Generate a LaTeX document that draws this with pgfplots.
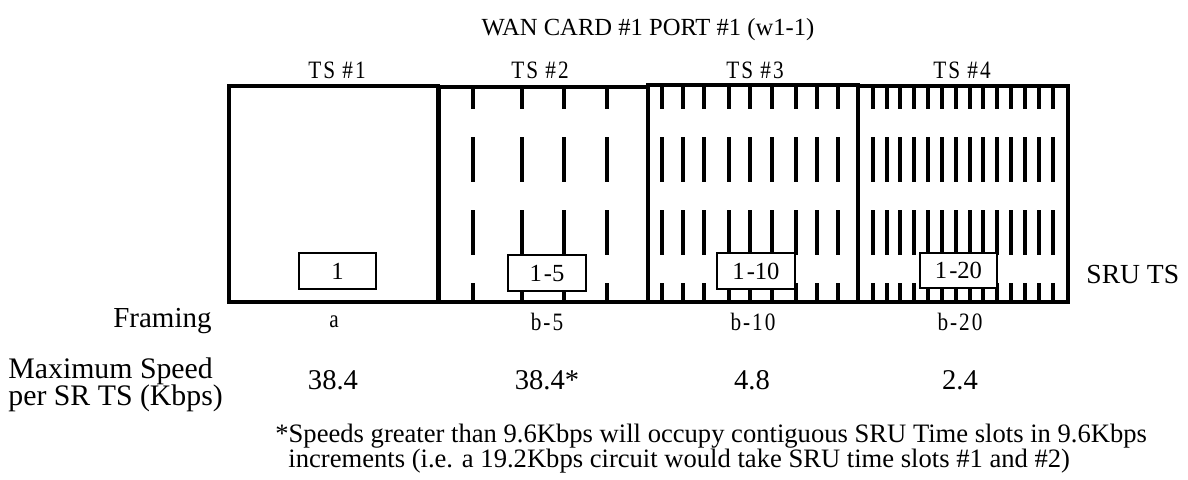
\documentclass[border=0pt]{standalone}
\usepackage{fontspec}
\setmainfont{Liberation Serif}
\newfontfamily\narrowfont[FakeStretch=0.85,LetterSpace=8]{Liberation Serif}
\usepackage{pgfplots}
\pgfplotsset{compat=1.18}
\begin{document}
\begin{tikzpicture}
\begin{axis}[
  width=594pt, height=238.5pt, scale only axis,
  xmin=0, xmax=1188, ymin=0, ymax=477, y dir=reverse,
  hide axis, clip=false, unbounded coords=jump]
% frame of the page (invisible)
\addplot[draw=none] coordinates {(0,0) (1188,477)};
% time-slot dashes
\addplot[line width=1.6pt, dash pattern=on 22.5pt off 14pt, dash phase=11pt] coordinates {
(473,86) (473,302) (473,nan)
(522,86) (522,302) (522,nan)
(564,86) (564,302) (564,nan)
(607,86) (607,302) (607,nan)
(662,86) (662,302) (662,nan)
(683,86) (683,302) (683,nan)
(704,86) (704,302) (704,nan)
(729,86) (729,302) (729,nan)
(750,86) (750,302) (750,nan)
(772,86) (772,302) (772,nan)
(796,86) (796,302) (796,nan)
(817,86) (817,302) (817,nan)
(838,86) (838,302) (838,nan)
(873,86) (873,302) (873,nan)
(887,86) (887,302) (887,nan)
(900,86) (900,302) (900,nan)
(914,86) (914,302) (914,nan)
(928,86) (928,302) (928,nan)
(942,86) (942,302) (942,nan)
(956,86) (956,302) (956,nan)
(970,86) (970,302) (970,nan)
(983,86) (983,302) (983,nan)
(997,86) (997,302) (997,nan)
(1011,86) (1011,302) (1011,nan)
(1025,86) (1025,302) (1025,nan)
(1039,86) (1039,302) (1039,nan)
(1053,86) (1053,302)
};
% TS boxes
\addplot[line width=1.6pt, line join=miter] coordinates {(229,86) (438,86) (438,302) (229,302)} -- cycle;
\addplot[line width=1.6pt, line join=miter] coordinates {(439,87) (648,87) (648,302) (439,302)} -- cycle;
\addplot[line width=1.6pt, line join=miter] coordinates {(648,85) (858,85) (858,302) (648,302)} -- cycle;
\addplot[line width=1.6pt, line join=miter] coordinates {(858,86) (1068,86) (1068,302) (858,302)} -- cycle;
% SRU TS label boxes
\addplot[line width=0.9pt, fill=white] coordinates {(299,253) (376,253) (376,289) (299,289)} -- cycle;
\addplot[line width=0.9pt, fill=white] coordinates {(508,255) (586,255) (586,291) (508,291)} -- cycle;
\addplot[line width=0.9pt, fill=white] coordinates {(717,253) (795,253) (795,289) (717,289)} -- cycle;
\addplot[line width=0.9pt, fill=white] coordinates {(920,253) (997,253) (997,288) (920,288)} -- cycle;
% texts in boxes
\begin{scope}[font=\fontsize{12.3}{14}\selectfont]
\node[anchor=base] at (axis cs:337.5,279) {1};
\node[anchor=base] at (axis cs:547,281) {1\kern1pt-5};
\node[anchor=base] at (axis cs:756,279) {1\kern1pt-10};
\node[anchor=base] at (axis cs:958.5,278) {1\kern1pt-20};
\end{scope}
% title
\node[anchor=base, font=\fontsize{12.3}{14}\selectfont] at (axis cs:648,35) {WAN CARD \#1 PORT \#1 (w1-1)};
% TS labels and framing
\begin{scope}[font=\narrowfont\fontsize{12.5}{14}\selectfont]
\node[anchor=base] at (axis cs:337,78) {TS \#1};
\node[anchor=base] at (axis cs:540,78) {TS \#2};
\node[anchor=base] at (axis cs:755,78) {TS \#3};
\node[anchor=base] at (axis cs:962,78) {TS \#4};
\node[anchor=base] at (axis cs:334,327) {a};
\node[anchor=base] at (axis cs:547,330) {b-5};
\node[anchor=base] at (axis cs:753,330) {b-10};
\node[anchor=base] at (axis cs:960,330) {b-20};
\end{scope}
% right label
\node[anchor=base west, inner xsep=0pt, font=\fontsize{13.8}{16}\selectfont] at (axis cs:1086,283) {SRU TS};
% left labels
\node[anchor=base east, inner xsep=0pt, font=\fontsize{14.5}{16}\selectfont] at (axis cs:212,327) {Framing};
\begin{scope}[font=\fontsize{14.9}{16}\selectfont]
\node[anchor=base west, inner xsep=0pt] at (axis cs:8,378) {Maximum Speed};
\node[anchor=base west, inner xsep=0pt] at (axis cs:8,405) {per SR TS (Kbps)};
\end{scope}
\begin{scope}[font=\fontsize{14.3}{16}\selectfont]
\node[anchor=base] at (axis cs:333,389) {38.4};
\node[anchor=base] at (axis cs:547,389) {38.4*};
\node[anchor=base] at (axis cs:752,389) {4.8};
\node[anchor=base] at (axis cs:960,389) {2.4};
\end{scope}
% footnote
\begin{scope}[font=\fontsize{13.3}{15}\selectfont]
\node[anchor=base west, inner xsep=0pt] at (axis cs:275,442) {*Speeds greater than 9.6Kbps will occupy contiguous SRU Time slots in 9.6Kbps};
\node[anchor=base west, inner xsep=0pt] at (axis cs:288,467) {increments (i.e. a 19.2Kbps circuit would take SRU time slots \#1 and \#2)};
\end{scope}
\end{axis}
\end{tikzpicture}
\end{document}
